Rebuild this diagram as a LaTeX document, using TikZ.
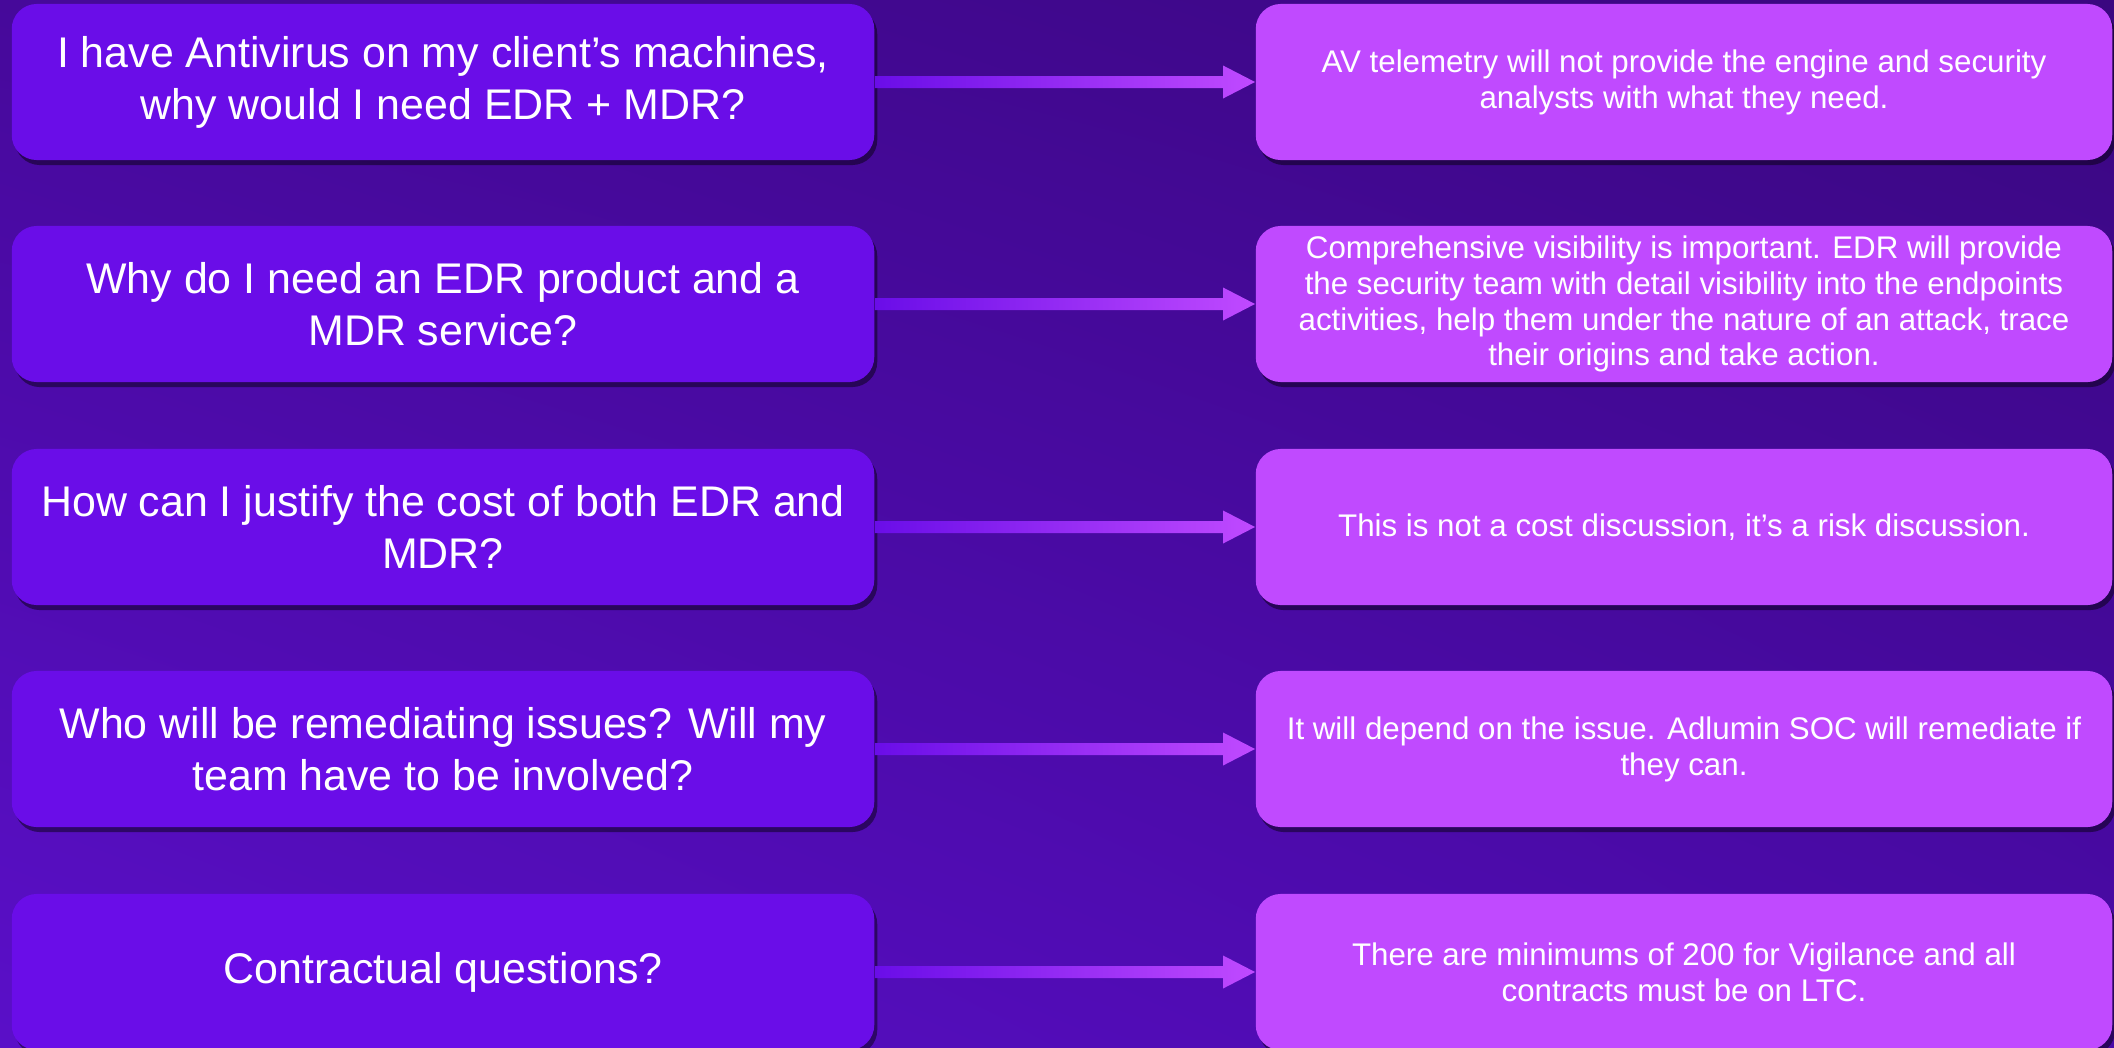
\documentclass[tikz,border=0pt]{standalone}
\usepackage{fontspec}
\setmainfont{Liberation Sans}
\usetikzlibrary{calc,shadows,shadings}

\definecolor{qcol}{HTML}{6A0DE8}
\definecolor{acol}{HTML}{C04AFF}
\definecolor{bgul}{HTML}{46099A}
\definecolor{bgur}{HTML}{3A0780}
\definecolor{bgll}{HTML}{5A0FC8}
\definecolor{bglr}{HTML}{4A0AA8}

\tikzset{
	qbox/.style={fill=qcol, text=white, rounded corners=0.25cm, align=center,
		minimum width=8.62cm, minimum height=1.56cm, inner sep=0pt,
		font=\fontsize{12.2}{14.8}\selectfont,
		drop shadow={shadow xshift=0.03cm, shadow yshift=-0.05cm, opacity=0.45, fill=black}},
	abox/.style={qbox, fill=acol, minimum width=8.56cm,
		font=\fontsize{8.9}{10.2}\selectfont},
}

\begin{document}
\begin{tikzpicture}[x=0.01cm,y=-0.01cm]
	%background
	\useasboundingbox (0,0) rectangle (2114,1048);
	\shade[upper left=bgul, upper right=bgur, lower left=bgll, lower right=bglr] (0,0) rectangle (2114,1048);
	
	%questions
	\node[qbox] (q1) at (443,82) {I have Antivirus on my client’s machines,\\why would I need EDR + MDR?};
	\node[qbox] (q2) at (443,304) {Why do I need an EDR product and a\\MDR service?};
	\node[qbox] (q3) at (443,527) {How can I justify the cost of both EDR and\\MDR?};
	\node[qbox] (q4) at (443,749) {Who will be remediating issues? Will my\\team have to be involved?};
	\node[qbox] (q5) at (443,972) {Contractual questions?};
	
	%answers
	\node[abox] (a1) at (1684,82) {AV telemetry will not provide the engine and security\\analysts with what they need.};
	\node[abox] (a2) at (1684,304) {Comprehensive visibility is important. EDR will provide\\the security team with detail visibility into the endpoints\\activities, help them under the nature of an attack, trace\\their origins and take action.};
	\node[abox] (a3) at (1684,527) {This is not a cost discussion, it’s a risk discussion.};
	\node[abox] (a4) at (1684,749) {It will depend on the issue. Adlumin SOC will remediate if\\they can.};
	\node[abox] (a5) at (1684,972) {There are minimums of 200 for Vigilance and all\\contracts must be on LTC.};
	
	%arrows
	\foreach \i in {1,...,5}{
		\shade[left color=qcol, right color=acol]
			($(q\i.east)+(0,-6)$) -- ($(a\i.west)+(-32,-6)$) -- ($(a\i.west)+(-32,-16.5)$)
			-- (a\i.west) -- ($(a\i.west)+(-32,16.5)$) -- ($(a\i.west)+(-32,6)$)
			-- ($(q\i.east)+(0,6)$) -- cycle;
	}
\end{tikzpicture}
\end{document}
